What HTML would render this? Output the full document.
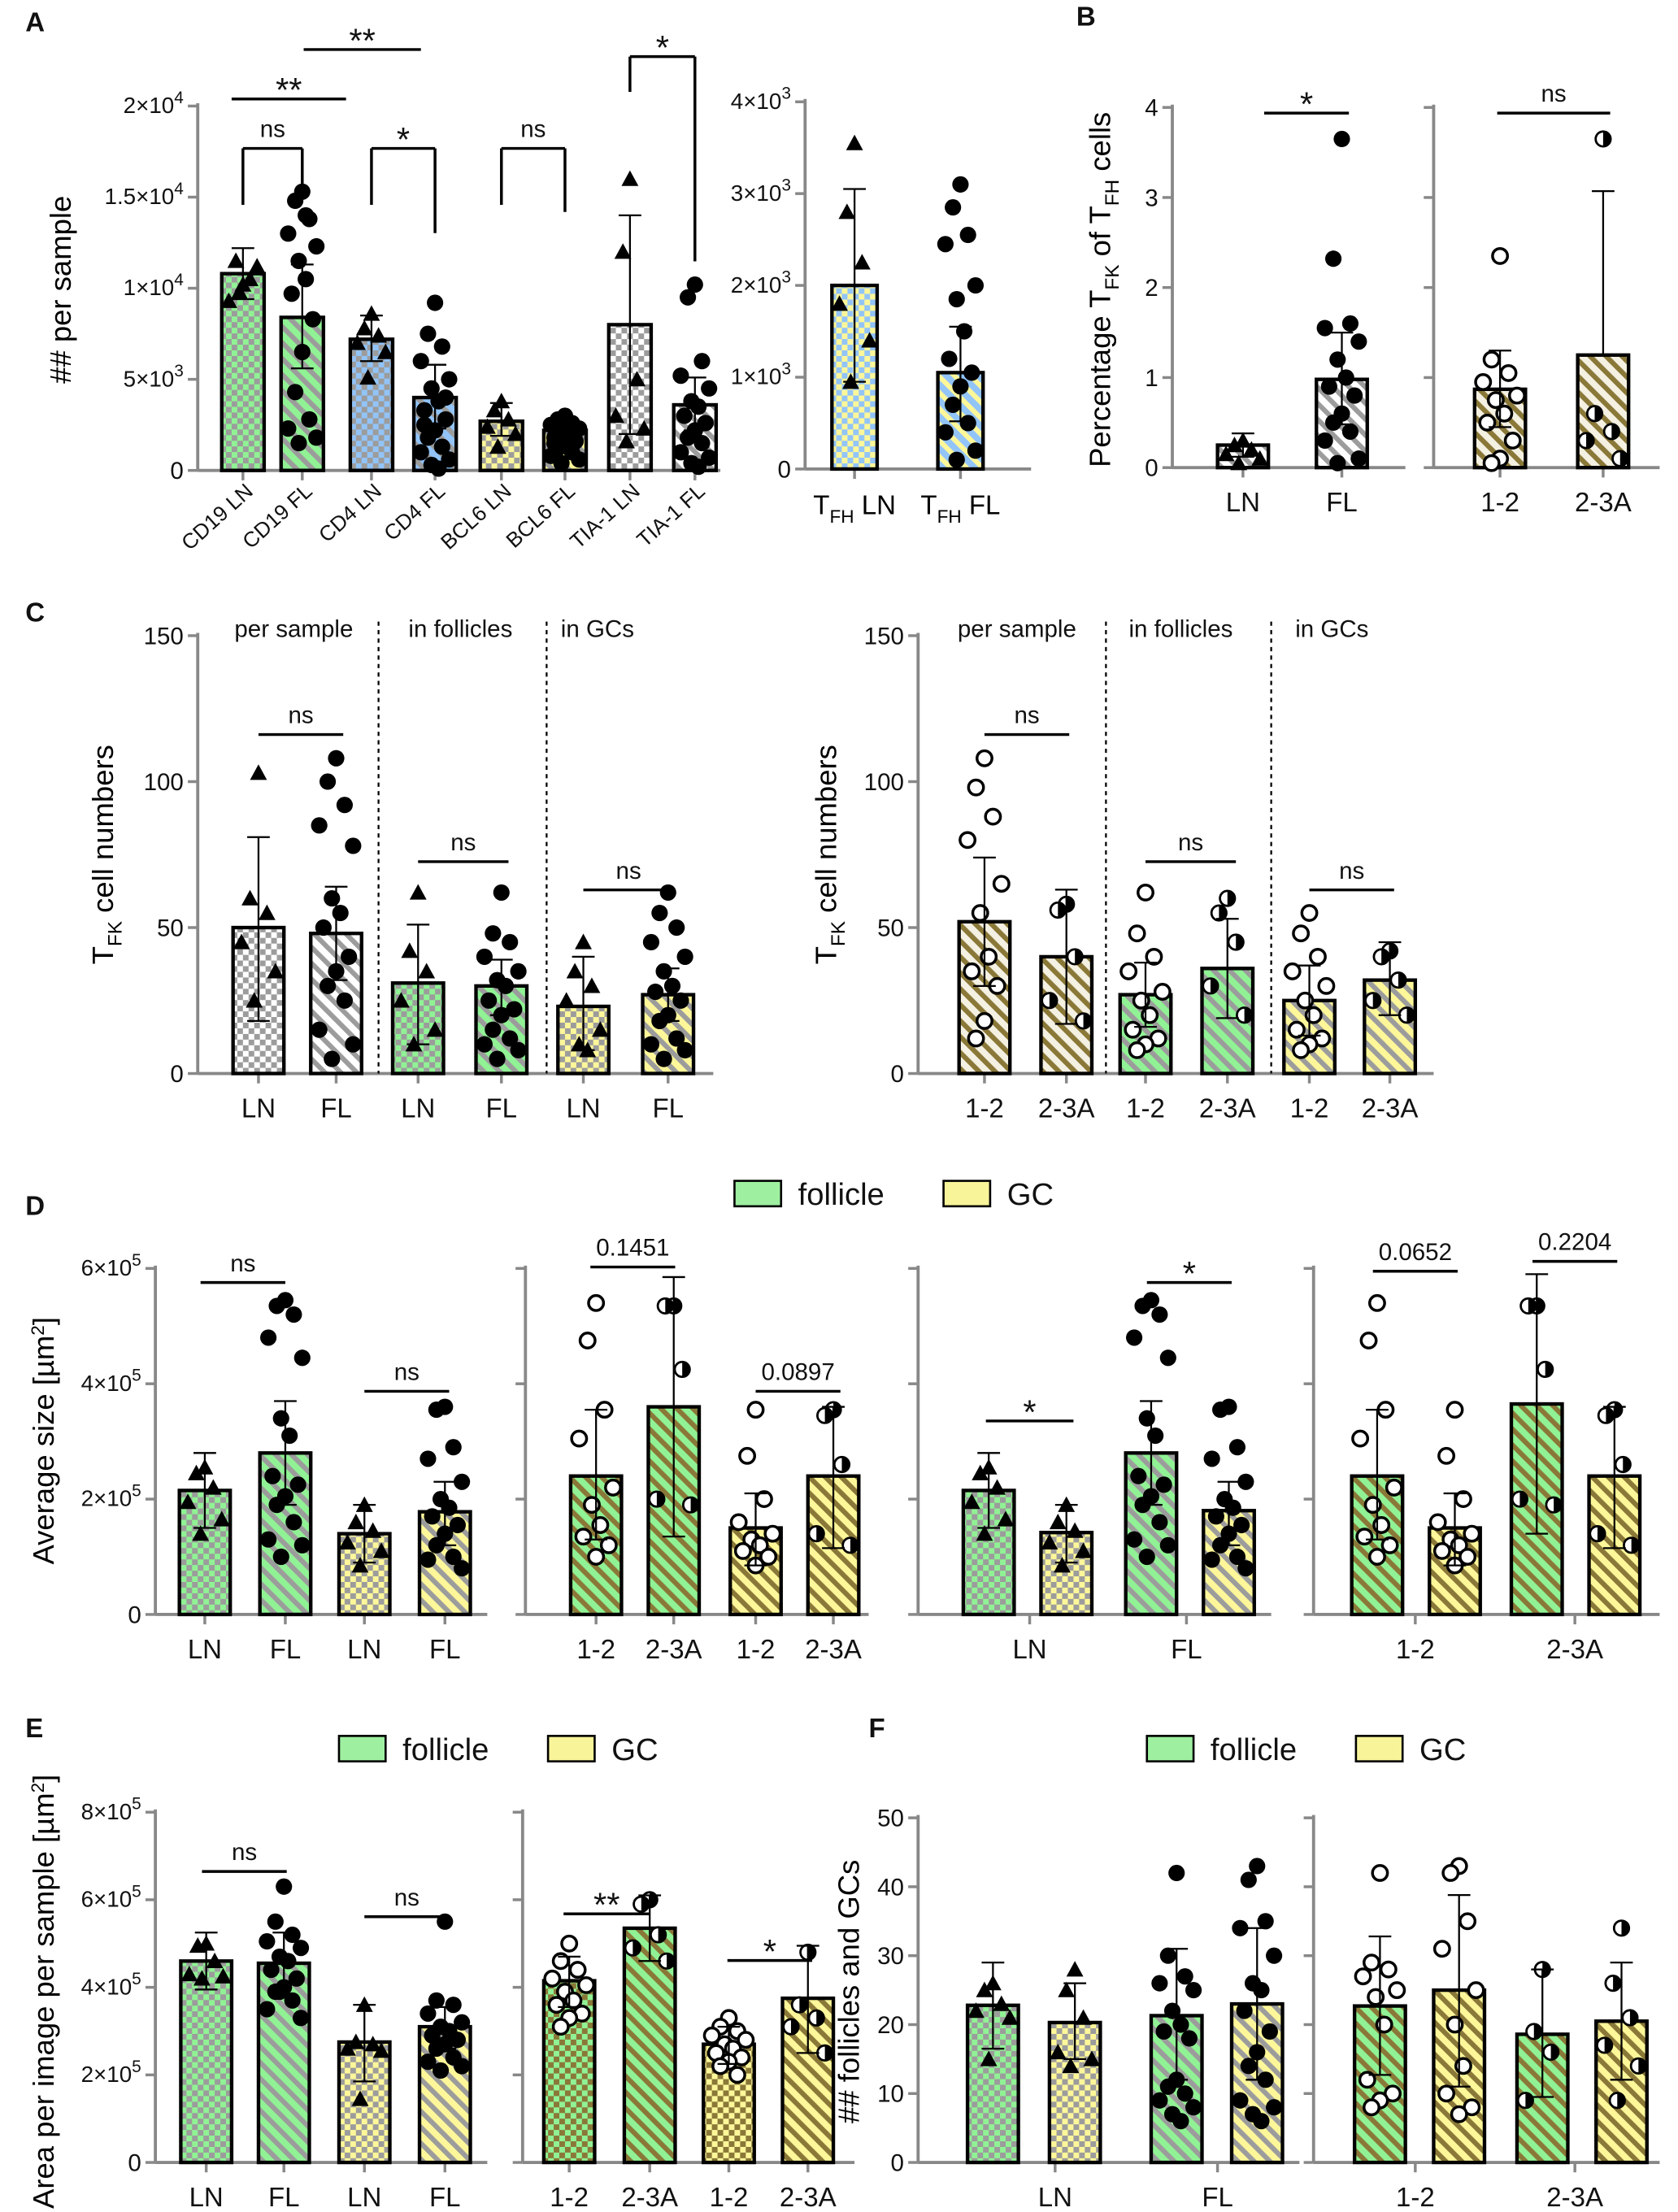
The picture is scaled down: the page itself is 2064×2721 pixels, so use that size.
<!DOCTYPE html>
<html><head><meta charset="utf-8"><style>
html,body{margin:0;padding:0;background:#fff}
svg{display:block;font-family:"Liberation Sans",sans-serif}
</style></head><body>
<svg id="s" xmlns="http://www.w3.org/2000/svg" width="2064" height="2721" viewBox="0 0 1188 1566">
<defs id="defs"></defs>
</svg>
<script>
// ===== DATA =====
// Panel A left (values in units of 1e3)
const aCats=["CD19 LN","CD19 FL","CD4 LN","CD4 FL","BCL6 LN","BCL6 FL","TIA-1 LN","TIA-1 FL"];
const aVals=[10.8,8.4,7.2,4.0,2.7,2.2,8.0,3.6];
const aHi=[12.2,11.3,8.5,5.8,3.7,2.8,14.0,5.1];
const aLo=[9.4,5.6,6.0,2.3,1.9,1.6,2.0,2.2];
const aPts=[[10.2,11.5,10.5,9.3,11.2,9.8],[15.3,14.8,13.8,13,12.3,11.5,10.5,9.7,8.3,6.5,4.3,2.8,2.3,1.8,1.5,14],[8.6,7.8,7.4,7,6.5,5.1],[9.2,7.5,6.8,6,5,4.5,3.8,3.3,2.8,2.2,1.8,1.3,1,0.6,0.3,0.1,2.5,4],[3.8,3.3,2.8,2.4,2,1.3],[3,2.8,2.6,2.5,2.3,2.1,2,1.8,1.6,1.4,1.2,1,0.8,0.6,0.4,2.2,1.5],[16,12,5,3,2.3,1.6],[10.2,9.5,6,5.2,4.5,3.8,3.5,3,2.6,2.2,1.8,1.5,1,0.7,0.4,0.2]];
// Panel A right (1e3)
const a2Vals=[2.0,1.05];
const a2Hi=[3.05,1.55];
const a2Lo=[0.95,0.52];
const a2Pts=[[3.55,2.8,2.25,1.8,1.4,0.95],[3.1,2.85,2.55,2.45,2,1.85,1.5,1.2,1.05,0.9,0.7,0.5,0.4,0.2,0.1]];
// Panel B
const bVals=[0.25,0.98,0.87,1.25];
const bHi=[0.38,1.5,1.3,3.07];
const bLo=[0.12,0.48,0.45,1.25];
const bPts=[[0.3,0.25,0.2,0.15,0.1,0.05],[3.65,2.32,1.6,1.55,1.4,1.2,1,0.9,0.8,0.6,0.5,0.4,0.3,0.1,0.05],[2.35,1.2,1.05,0.95,0.8,0.75,0.6,0.5,0.3,0.1,0.05],[3.65,0.6,0.4,0.3,0.1]];
// Panel C left
const cVals=[50,48,31,30,23,27];
const cHi=[81,64,51,39,40,36];
const cLo=[18,32,10,20,8,18];
const cPts=[[103,60,55,45,35,25],[108,100,92,85,78,60,55,50,40,35,30,25,15,10,5],[62,42,35,25,15,10],[62,48,45,40,35,32,30,25,22,20,15,12,10,8,5],[45,35,30,25,15,10,8],[62,55,50,45,40,35,30,28,25,20,18,12,10,8,5]];
// Panel C right
const c2Vals=[52,40,27,36,25,32];
const c2Hi=[74,63,38,53,37,45];
const c2Lo=[30,17,16,19,13,20];
const c2Pts=[[108,98,88,80,65,55,40,35,30,18,12],[58,56,40,25,18],[62,48,40,35,28,25,20,15,12,10,8],[60,55,45,30,20],[55,48,40,35,30,25,20,15,12,10,8],[42,40,32,25,20]];
// Panel D (1e5)
const d1Vals=[2.15,2.8,1.4,1.78];
const d1Hi=[2.8,3.7,1.9,2.3];
const d1Lo=[1.5,1.9,0.9,1.2];
const d1Pts=[[2.55,2.45,2.2,1.95,1.65,1.4],[5.45,5.35,5.2,4.8,4.45,3.4,3.1,2.4,2.25,2.05,1.9,1.6,1.3,1.2,1.0],[1.9,1.6,1.45,1.25,1.1,0.85],[3.6,3.55,2.9,2.7,2.3,2.0,1.85,1.7,1.55,1.4,1.2,1.0,0.95,0.8]];
const d2Vals=[2.4,3.6,1.5,2.4];
const d2Hi=[3.55,5.85,2.1,3.6];
const d2Lo=[1.3,1.35,0.85,1.15];
const d2Pts=[[5.4,4.75,3.55,3.05,2.2,1.9,1.55,1.35,1.2,1.0],[5.35,5.35,4.25,2.0,1.9],[3.55,2.75,2.0,1.6,1.4,1.3,1.2,1.1,1.0,0.85],[3.55,3.45,2.6,1.4,1.2]];
const d3Vals=[2.15,1.42,2.8,1.8];
const d3Hi=[2.8,1.9,3.7,2.3];
const d3Lo=[1.5,0.9,1.9,1.2];
const d3Pts=[d1Pts[0],d1Pts[2],d1Pts[1],d1Pts[3]];
const d4Vals=[2.4,1.5,3.65,2.4];
const d4Hi=[3.55,2.1,5.9,3.6];
const d4Lo=[1.3,0.85,1.4,1.15];
const d4Pts=[d2Pts[0],d2Pts[2],d2Pts[1],d2Pts[3]];
// Panel E (1e5)
const eVals=[4.6,4.55,2.75,3.1,4.15,5.35,2.7,3.75];
const eHi=[5.25,5.25,3.6,3.55,4.7,6.1,3.1,4.95];
const eLo=[3.95,3.85,1.85,2.6,3.55,4.6,2.25,2.5];
const ePts=[[5.0,4.95,4.6,4.3,4.25,4.2],[6.3,5.5,5.2,5.05,4.9,4.7,4.6,4.4,4.2,4.0,3.9,3.7,3.5,3.3,3.9],[3.6,2.75,2.7,2.6,2.55,1.45],[5.5,3.7,3.6,3.4,3.2,3.1,3,2.9,2.8,2.7,2.6,2.4,2.3,2.2,2.1],[5.0,4.6,4.4,4.2,4.05,3.9,3.7,3.6,3.4,3.3,3.1],[6.0,5.9,5.2,4.9,4.6],[3.3,3.1,3.0,2.9,2.8,2.7,2.6,2.5,2.4,2.3,2.2,2.0],[4.8,3.6,3.3,3.1,2.5]];
// Panel F
const fVals=[22.8,20.3,21.3,23,22.7,25,18.6,20.5];
const fHi=[29,26,31,34,32.8,38.8,28,29];
const fLo=[16.5,15,12,12,12.7,11,9.5,12];
const fPts=[[26,25,23,22,21,15],[28,25,21,16,15,14],[42,30,27,26,25,22,20,19,18,12,11,10,9,8,7,6],[43,41,35,34,30,26,25,22,19,16,14,12,9,8,7,6],[42,29,28,27,25,24,20,12,10,9,8],[43,42,35,31,25,20,14,10,8,7],[28,19,16,9],[34,26,21,17,14,9]];

// ===== HELPERS =====
const NS='http://www.w3.org/2000/svg';
const svg=document.getElementById('s');
const defs=document.getElementById('defs');
function mk(tag,attrs,parent,name){
  const e=document.createElementNS(NS,tag);
  for(const k in attrs)e.setAttribute(k,attrs[k]);
  
  
  (parent||svg).appendChild(e);return e;
}
function checker(id,c1,c2){const p=mk('pattern',{id:id,patternUnits:'userSpaceOnUse',width:8,height:8},defs,id);
  mk('rect',{width:8,height:8,fill:c1},p);mk('rect',{width:4,height:4,fill:c2},p);mk('rect',{x:4,y:4,width:4,height:4,fill:c2},p);}
function stripe(id,c1,c2){const p=mk('pattern',{id:id,patternUnits:'userSpaceOnUse',width:8,height:8,patternTransform:'rotate(-45)'},defs,id);
  mk('rect',{width:8,height:8,fill:c1},p);mk('rect',{width:3.5,height:8,fill:c2},p);}
const GR='#9c9c9c',OL='#8a7838';
checker('ckG','#90f294',GR);stripe('stG','#90f294',GR);
checker('ckY','#fdf79a',GR);stripe('stY','#fdf79a',GR);
checker('ckB','#92c4f8',GR);stripe('stB2','#92c4f8',GR);
checker('ckK','#ffffff',GR);stripe('stK','#ffffff',GR);
checker('ckT','#92c4f8','#fdf79a');stripe('stT','#92c4f8','#fdf79a');
stripe('stN','#f4f0e2',OL);
stripe('sdG','#90f294',OL);stripe('sdY','#fdf79a',OL);
checker('cdG','#90f294',OL);checker('cdY','#fdf79a',OL);

function txt(x,y,s,size,parent,name,anchor,extra){
  const t=mk('text',Object.assign({x:x,y:y,'font-size':size,'text-anchor':anchor||'middle',fill:'#111'},extra||{}),parent,name);
  t.textContent=s;return t;}
function sci(x,y,m,e,parent,name){
  const t=mk('text',{x:x,y:y,'font-size':16,'text-anchor':'end',fill:'#111'},parent,name);
  if(e===null){t.textContent=m;return t;}
  t.appendChild(document.createTextNode(m+'×10'));
  const sp=mk('tspan',{dy:-7,'font-size':12},t,'exponent');sp.textContent=e;return t;}

function marker(g,x,y,type){
  if(type==='tri'){mk('polygon',{points:`${x},${y-6} ${x-6},${y+5} ${x+6},${y+5}`,fill:'#000'},g,'data-point');}
  else if(type==='dot'){mk('circle',{cx:x,cy:y,r:5.8,fill:'#000'},g,'data-point');}
  else if(type==='open'){mk('circle',{cx:x,cy:y,r:5.3,fill:'#fff',stroke:'#000','stroke-width':2},g,'data-point');}
  else {mk('circle',{cx:x,cy:y,r:5.3,fill:'#fff',stroke:'#000','stroke-width':1.6},g,'data-point');
    mk('path',{d:`M${x},${y-5.3} A5.3,5.3 0 0 1 ${x},${y+5.3} Z`,fill:'#000'},g,'data-point-half');}
}
const JIT=[0,-1,1,-2,2,-0.5,0.5,-1.5,1.5];

function panel(o){
  const g=mk('g',{},svg,o.name);
  const Y=v=>o.yBot-(v/o.ymax)*(o.yBot-o.yTop);
  const bw=o.bw||30;
  mk('line',{x1:o.ax,y1:o.yTop-2,x2:o.ax,y2:o.yBot,stroke:'#888','stroke-width':2.2},g,'y-axis');
  mk('line',{x1:o.ax,y1:o.yBot,x2:o.xEnd,y2:o.yBot,stroke:'#888','stroke-width':2.2},g,'x-axis');
  o.ticks.forEach((t,i)=>{
    mk('line',{x1:o.ax-7,y1:Y(t),x2:o.ax,y2:Y(t),stroke:'#888','stroke-width':2},g,'y-tick');
    if(o.tl){const L=o.tl[i];
      if(Array.isArray(L))sci(o.ax-10,Y(t)+5,L[0],L[1],g,'y-tick-label');
      else txt(o.ax-10,Y(t)+6,String(L),17,g,'y-tick-label','end');}
  });
  (o.xticks||o.xs).forEach(x=>mk('line',{x1:x,y1:o.yBot,x2:x,y2:o.yBot+7,stroke:'#888','stroke-width':2},g,'x-tick'));
  o.xs.forEach((x,i)=>{
    const v=o.vals[i];
    mk('rect',{x:x-bw/2,y:Y(v),width:bw,height:o.yBot-Y(v),fill:`url(#${o.fills[i]})`,stroke:'#000','stroke-width':2.5},g,'bar');
    o.pts[i].forEach((p,j)=>{const off=JIT[j%JIT.length]*bw/6;marker(g,x+off,Y(p),o.marks[i]);});
    const hi=Y(o.hi[i]),lo=Y(o.lo[i]);
    mk('line',{x1:x,y1:hi,x2:x,y2:lo,stroke:'#000','stroke-width':1.3},g,'error-bar');
    mk('line',{x1:x-8,y1:hi,x2:x+8,y2:hi,stroke:'#000','stroke-width':1.3},g,'error-cap');
    mk('line',{x1:x-8,y1:lo,x2:x+8,y2:lo,stroke:'#000','stroke-width':1.3},g,'error-cap');
  });
  if(o.labels){o.labels.forEach((L,i)=>{const lx=(o.labelXs||o.xs)[i];
    if(o.rot){txt(lx+8,o.yBot+16,L,15,g,'x-category-label','end',{transform:`rotate(-42 ${lx+8} ${o.yBot+16})`});}
    else txt(lx,o.yBot+31,L,19,g,'x-category-label');});}
  (o.sig||[]).forEach(s=>{
    mk('line',{x1:s[0],y1:s[2],x2:s[1],y2:s[2],stroke:'#000','stroke-width':2},g,'significance-line');
    if(s[4]){mk('line',{x1:s[0],y1:s[2],x2:s[0],y2:s[2]+s[4],stroke:'#000','stroke-width':2},g,'bracket-leg');
      mk('line',{x1:s[1],y1:s[2],x2:s[1],y2:s[2]+(s[5]||s[4]),stroke:'#000','stroke-width':2},g,'bracket-leg');}
    txt((s[0]+s[1])/2,s[2]-(s[3].indexOf('*')>=0?-2:8),s[3],s[3].indexOf('*')>=0?24:17,g,'significance-label');
  });
  return g;
}

// ===== PANEL A =====
panel({name:'panel-a-left',ax:140,yTop:75,yBot:333,ymax:20,ticks:[0,5,10,15,20],
  tl:['0',['5',3],['1',4],['1.5',4],['2',4]],xEnd:510,bw:30,
  xs:[172,214,263,308,355,400,446,492],vals:aVals,hi:aHi,lo:aLo,pts:aPts,
  fills:['ckG','stG','ckB','stB2','ckY','stY','ckK','stK'],
  marks:['tri','dot','tri','dot','tri','dot','tri','dot'],labels:aCats,rot:true,
  sig:[[172,214,105,'ns',40,30],[263,308,105,'*',40,60],[355,400,105,'ns',40,45],[446,492,40,'*',25,145],[164,245,70,'**'],[215,298,35,'**']]});
panel({name:'panel-a-right',ax:570,yTop:72,yBot:332,ymax:4,ticks:[0,1,2,3,4],
  tl:['0',['1',3],['2',3],['3',3],['4',3]],xEnd:730,bw:32,
  xs:[605,680],vals:a2Vals,hi:a2Hi,lo:a2Lo,pts:a2Pts,fills:['ckT','stT'],marks:['tri','dot']});
{const g=mk('g',{},svg,'tfh-labels');
 [[605,'LN'],[680,'FL']].forEach(a=>{const t=mk('text',{x:a[0],y:364,'font-size':19,'text-anchor':'middle'},g,'x-category-label');
  t.appendChild(document.createTextNode('T'));const s=mk('tspan',{dy:6,'font-size':13},t,'subscript');s.textContent='FH';
  const s2=mk('tspan',{dy:-6},t,'label-rest');s2.textContent=' '+a[1];});}
// ===== PANEL B =====
panel({name:'panel-b-left',ax:830,yTop:76,yBot:331,ymax:4,ticks:[0,1,2,3,4],tl:[0,1,2,3,4],xEnd:995,bw:36,
  xs:[880,950],vals:bVals.slice(0,2),hi:bHi.slice(0,2),lo:bLo.slice(0,2),pts:bPts.slice(0,2),fills:['stK','stK'],marks:['tri','dot'],
  labels:['LN','FL'],sig:[[895,955,80,'*']]});
panel({name:'panel-b-right',ax:1015,yTop:76,yBot:331,ymax:4,ticks:[0,1,2,3,4],xEnd:1175,bw:36,
  xs:[1062,1135],vals:bVals.slice(2),hi:bHi.slice(2),lo:bLo.slice(2),pts:bPts.slice(2),fills:['stN','stN'],marks:['open','half'],
  labels:['1-2','2-3A'],sig:[[1060,1140,80,'ns']]});
// ===== PANEL C =====
panel({name:'panel-c-left',ax:140,yTop:450,yBot:760,ymax:150,ticks:[0,50,100,150],tl:[0,50,100,150],xEnd:505,bw:36,
  xs:[183,238,296,355,413,473],vals:cVals,hi:cHi,lo:cLo,pts:cPts,fills:['ckK','stK','ckG','stG','ckY','stY'],
  marks:['tri','dot','tri','dot','tri','dot'],labels:['LN','FL','LN','FL','LN','FL'],
  sig:[[183,243,520,'ns'],[296,360,610,'ns'],[413,477,630,'ns']]});
panel({name:'panel-c-right',ax:650,yTop:450,yBot:760,ymax:150,ticks:[0,50,100,150],tl:[0,50,100,150],xEnd:1015,bw:36,
  xs:[697,755,811,869,927,984],vals:c2Vals,hi:c2Hi,lo:c2Lo,pts:c2Pts,fills:['stN','stN','stG','stG','stY','stY'],
  marks:['open','half','open','half','open','half'],labels:['1-2','2-3A','1-2','2-3A','1-2','2-3A'],
  sig:[[697,757,520,'ns'],[811,875,610,'ns'],[927,987,630,'ns']]});
[[268],[387],[783],[900]].forEach(a=>mk('line',{x1:a[0],y1:440,x2:a[0],y2:760,stroke:'#000','stroke-width':1.3,'stroke-dasharray':'3,3'},svg,'group-separator'));
[[208,'per sample'],[326,'in follicles'],[423,'in GCs'],[720,'per sample'],[836,'in follicles'],[943,'in GCs']].forEach(a=>txt(a[0],451,a[1],17,svg,'group-title'));
// ===== PANEL D =====
const dT=['0',['2',5],['4',5],['6',5]];
panel({name:'panel-d-1',ax:110,yTop:898,yBot:1143,ymax:6,ticks:[0,2,4,6],tl:dT,xEnd:345,bw:36,
  xs:[145,202,258,315],vals:d1Vals,hi:d1Hi,lo:d1Lo,pts:d1Pts,fills:['ckG','stG','ckY','stY'],marks:['tri','dot','tri','dot'],
  labels:['LN','FL','LN','FL'],sig:[[142,202,908,'ns'],[258,318,985,'ns']]});
panel({name:'panel-d-2',ax:372,yTop:898,yBot:1143,ymax:6,ticks:[0,2,4,6],xEnd:615,bw:36,
  xs:[422,477,535,590],vals:d2Vals,hi:d2Hi,lo:d2Lo,pts:d2Pts,fills:['sdG','sdG','sdY','sdY'],marks:['open','half','open','half'],
  labels:['1-2','2-3A','1-2','2-3A'],sig:[[418,478,897,'0.1451'],[535,595,985,'0.0897']]});
panel({name:'panel-d-3',ax:650,yTop:898,yBot:1143,ymax:6,ticks:[0,2,4,6],xEnd:900,bw:36,
  xs:[700,755,815,870],xticks:[729,840],vals:d3Vals,hi:d3Hi,lo:d3Lo,pts:d3Pts,fills:['ckG','ckY','stG','stY'],marks:['tri','tri','dot','dot'],
  labels:['LN','FL'],labelXs:[729,840],sig:[[698,760,1006,'*'],[812,872,908,'*']]});
panel({name:'panel-d-4',ax:930,yTop:898,yBot:1143,ymax:6,ticks:[0,2,4,6],xEnd:1175,bw:36,
  xs:[975,1030,1088,1143],xticks:[1002,1115],vals:d4Vals,hi:d4Hi,lo:d4Lo,pts:d4Pts,fills:['sdG','sdY','sdG','sdY'],marks:['open','open','half','half'],
  labels:['1-2','2-3A'],labelXs:[1002,1115],sig:[[972,1032,900,'0.0652'],[1085,1145,893,'0.2204']]});
function legend(x,y,name){const g=mk('g',{},svg,name);
  mk('rect',{x:x,y:y-9,width:33,height:18,fill:'#9ef0a0',stroke:'#000','stroke-width':1.5},g,'legend-swatch-follicle');
  txt(x+45,y+8,'follicle',22,g,'legend-label-follicle','start');
  mk('rect',{x:x+148,y:y-9,width:33,height:18,fill:'#f8f49a',stroke:'#000','stroke-width':1.5},g,'legend-swatch-gc');
  txt(x+193,y+8,'GC',22,g,'legend-label-gc','start');}
legend(520,845,'legend-d');legend(240,1238,'legend-e');legend(812,1238,'legend-f');
// ===== PANEL E =====
panel({name:'panel-e-1',ax:110,yTop:1283,yBot:1531,ymax:8,ticks:[0,2,4,6,8],tl:['0',['2',5],['4',5],['6',5],['8',5]],xEnd:345,bw:36,
  xs:[146,201,258,315],vals:eVals.slice(0,4),hi:eHi.slice(0,4),lo:eLo.slice(0,4),pts:ePts.slice(0,4),fills:['ckG','stG','ckY','stY'],
  marks:['tri','dot','tri','dot'],labels:['LN','FL','LN','FL'],sig:[[143,203,1325,'ns'],[258,318,1357,'ns']]});
panel({name:'panel-e-2',ax:370,yTop:1283,yBot:1531,ymax:8,ticks:[0,2,4,6,8],xEnd:605,bw:36,
  xs:[403,460,516,572],vals:eVals.slice(4),hi:eHi.slice(4),lo:eLo.slice(4),pts:ePts.slice(4),fills:['cdG','sdG','cdY','sdY'],
  marks:['open','half','open','half'],labels:['1-2','2-3A','1-2','2-3A'],sig:[[399,460,1355,'**'],[515,575,1388,'*']]});
// ===== PANEL F =====
panel({name:'panel-f-1',ax:650,yTop:1287,yBot:1531,ymax:50,ticks:[0,10,20,30,40,50],tl:[0,10,20,30,40,50],xEnd:920,bw:36,
  xs:[703,761,833,890],xticks:[747,862],vals:fVals.slice(0,4),hi:fHi.slice(0,4),lo:fLo.slice(0,4),pts:fPts.slice(0,4),
  fills:['ckG','ckY','stG','stY'],marks:['tri','tri','dot','dot'],labels:['LN','FL'],labelXs:[747,862]});
panel({name:'panel-f-2',ax:930,yTop:1287,yBot:1531,ymax:50,ticks:[0,10,20,30,40,50],xEnd:1175,bw:36,
  xs:[977,1033,1092,1148],xticks:[1002,1115],vals:fVals.slice(4),hi:fHi.slice(4),lo:fLo.slice(4),pts:fPts.slice(4),
  fills:['sdG','sdY','sdG','sdY'],marks:['open','open','half','half'],labels:['1-2','2-3A'],labelXs:[1002,1115]});
// ===== Axis titles & panel letters =====
function vt(x,y,parts,name){const t=mk('text',{x:x,y:y,'font-size':21,'text-anchor':'middle',transform:`rotate(-90 ${x} ${y})`},svg,name);
  parts.forEach(p=>{const s=mk('tspan',p[1]?{dy:p[1],'font-size':p[2]||21}:{},t,'title-part');s.textContent=p[0];});}
vt(50,205,[['## per sample']],'y-axis-title-a');
vt(786,205,[['Percentage T'],['FK',6,14],[' of T',-6],['FH',6,14],[' cells',-6]],'y-axis-title-b');
vt(80,605,[['T'],['FK',6,14],[' cell numbers',-6]],'y-axis-title-c-left');
vt(592,605,[['T'],['FK',6,14],[' cell numbers',-6]],'y-axis-title-c-right');
vt(38,1020,[['Average size [µm'],['2',-7,13],[']',7]],'y-axis-title-d');
vt(38,1410,[['Area per image per sample [µm'],['2',-7,13],[']',7]],'y-axis-title-e');
vt(608,1410,[['## follicles and GCs']],'y-axis-title-f');
[[18,22,'A'],[762,18,'B'],[18,440,'C'],[18,860,'D'],[18,1230,'E'],[615,1230,'F']].forEach(a=>txt(a[0],a[1],a[2],19,svg,'panel-letter','start',{'font-weight':'bold'}));
</script>
</body></html>
